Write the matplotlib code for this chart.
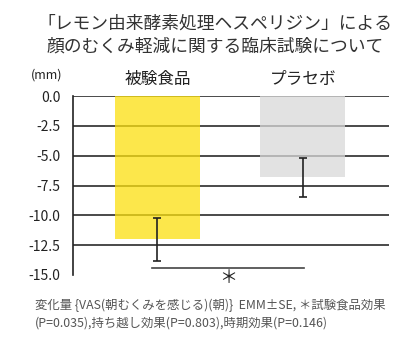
import matplotlib
matplotlib.use("Agg")
import matplotlib.pyplot as plt

plt.rcParams['font.family'] = ['Noto Sans CJK JP', 'DejaVu Sans']

# data
groups = ["被験食品", "プラセボ"]
means = [-12.0, -6.8]
err_low = [1.8, 1.7]   # distance below mean
err_high = [1.75, 1.6]  # distance above mean
yticks = [0.0, -2.5, -5.0, -7.5, -10.0, -12.5, -15.0]
colors = ["#FCE00E", "#D9D9D9"]

title = "「レモン由来酵素処理ヘスペリジン」による\n顔のむくみ軽減に関する臨床試験について"
note = ("変化量 {VAS(朝むくみを感じる)(朝)}  EMM±SE, ＊試験食品効果\n"
        "(P=0.035),持ち越し効果(P=0.803),時期効果(P=0.146)")

fig = plt.figure(figsize=(4.14, 3.37), dpi=100)
ax = fig.add_axes([0.176, 0.184, 0.763, 0.531])

x = [0, 1]
# gridlines (behind bars, bars slightly transparent so lines show through)
for v in yticks[:-1]:
    ax.axhline(v, color="#2b2b2b", lw=1.2, zorder=1)

ax.bar(x, means, width=0.584, color=colors, alpha=0.75, zorder=2)
ax.errorbar(x, means, yerr=[err_low, err_high], fmt="none", ecolor="#222222",
            elinewidth=1.2, capsize=3, capthick=1.2, zorder=3)

# significance line and star
ax.plot([-0.038, 1.007], [-14.45, -14.45], color="#444444", lw=1.2,
        zorder=3, clip_on=False)
ax.text(0.485, -15.25, "＊", ha="center", va="center", fontsize=13,
        color="#222222", clip_on=False)

ax.set_xlim(-0.581, 1.591)
ax.set_ylim(-15, 0)
ax.set_yticks(yticks)
ax.set_yticklabels([f"{v:.1f}" for v in yticks], fontsize=10, color="#222222")
ax.tick_params(axis="y", length=0, pad=9)
ax.set_xticks([])
for s in ["top", "right", "bottom"]:
    ax.spines[s].set_visible(False)
ax.spines["left"].set_color("#222222")
ax.spines["left"].set_linewidth(1.2)

for xi, g in zip(x, groups):
    ax.text(xi, 1.4, g, ha="center", va="center", fontsize=12,
            color="#222222", clip_on=False)
fig.text(47 / 414, 1 - 75 / 337, "(mm)", ha="center", va="center",
         fontsize=9, color="#222222")

fig.text(215 / 414, 1 - 35 / 337, title, ha="center", va="center",
         fontsize=12.8, color="#333333", linespacing=1.35)
fig.text(35 / 414, 1 - 314 / 337, note, ha="left", va="center",
         fontsize=8.9, color="#555555", linespacing=1.45)

fig.savefig("out.png", dpi=100)
